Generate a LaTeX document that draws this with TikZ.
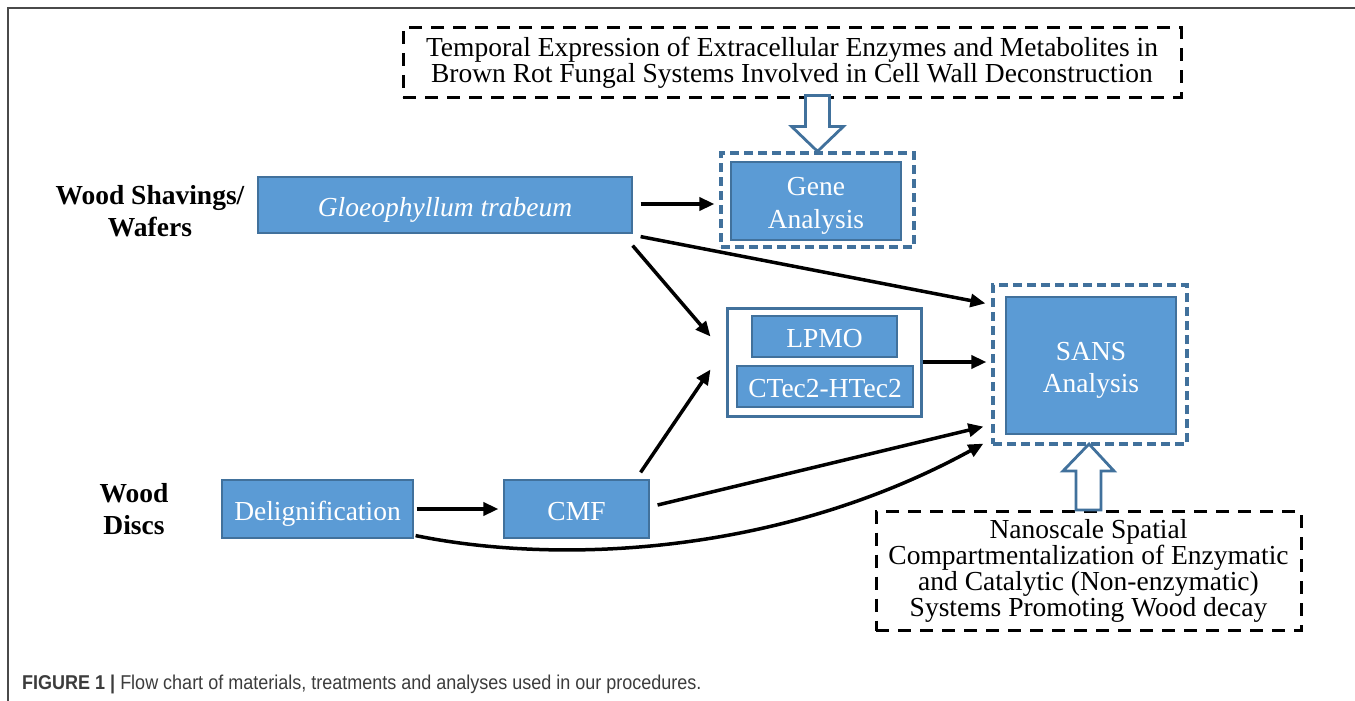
\documentclass[tikz,border=0pt]{standalone}
\usepackage{fontspec}
\setmainfont{Liberation Serif}
\newfontfamily\capfont{Liberation Sans}
\usetikzlibrary{calc,arrows.meta}
\definecolor{boxblue}{HTML}{5B9BD5}
\definecolor{edgeblue}{HTML}{41719C}
\definecolor{framegray}{HTML}{4A4A4A}
\definecolor{capgray}{HTML}{3C3C3C}
\newcommand\boxtxt[1]{\raisebox{-4.5pt}[\height][\depth]{\begin{tabular}{@{}c@{}}#1\end{tabular}}}
\begin{document}
\begin{tikzpicture}[x=1pt,y=-1pt,
  bluebox/.style={draw=edgeblue, line width=1.2pt, fill=boxblue, text=white, inner sep=0pt, font=\fontsize{27.5}{32.5}\selectfont},
  bluedash/.style={draw=edgeblue, line width=3.2pt, dash pattern=on 9pt off 5pt, inner sep=0pt},
  enzbox/.style={draw=edgeblue, line width=3pt, fill=white, inner sep=0pt},
  blackdash/.style={draw=black, line width=3pt, dash pattern=on 13pt off 9pt, align=center, inner sep=0pt, font=\fontsize{27.5}{26}\selectfont},
  arr/.style={line width=3.5pt, -{Triangle[length=15pt,width=13pt]}},
  hollow/.style={draw=edgeblue, line width=2.8pt, fill=white, line join=miter},
  lbl/.style={font=\fontsize{27.5}{32}\selectfont\bfseries, align=center}
]
\useasboundingbox (0,0) rectangle (1355,701);
\draw[framegray, line width=2pt] (8,701) -- (8,8) -- (1355,8);

% top text box
\node[blackdash, minimum width=778pt, minimum height=69pt] (top) at (792,62.5)
  {Temporal Expression of Extracellular Enzymes and Metabolites in\\Brown Rot Fungal Systems Involved in Cell Wall Deconstruction};

% gene analysis
\node[bluedash, minimum width=193pt, minimum height=94pt] (geneout) at (817.5,200) {};
\node[bluebox, minimum width=170pt, minimum height=78pt] (gene) at (816,201) {\boxtxt{Gene\\Analysis}};

% SANS analysis
\node[bluedash, minimum width=194pt, minimum height=159pt] (sansout) at (1090,364.5) {};
\node[bluebox, minimum width=170pt, minimum height=137pt] (sans) at (1091,365.5) {\boxtxt{SANS\\Analysis}};

% enzyme box
\node[enzbox, minimum width=194pt, minimum height=108pt] (enz) at (824,362) {};
\node[bluebox, minimum width=145pt, minimum height=41pt] (lpmo) at (824.5,336.5) {\boxtxt{LPMO}};
\node[bluebox, minimum width=176pt, minimum height=41pt] (ctec) at (825,386.5) {\boxtxt{CTec2-HTec2}};

% material boxes
\node[bluebox, minimum width=374pt, minimum height=56pt] (gloeo) at (445,205) {\boxtxt{\itshape Gloeophyllum trabeum}};
\node[bluebox, minimum width=191pt, minimum height=58pt] (delig) at (317.5,509) {\boxtxt{Delignification}};
\node[bluebox, minimum width=145pt, minimum height=58pt] (cmf) at (576.5,509) {\boxtxt{CMF}};

% bottom text box
\node[blackdash, minimum width=425pt, minimum height=119pt, font=\fontsize{27.5}{25}\selectfont] (bot) at (1088.5,571)
  {Nanoscale Spatial\\Compartmentalization of Enzymatic\\and Catalytic (Non-enzymatic)\\Systems Promoting Wood decay};

% labels
\node[lbl] (ws) at (150,211) {Wood Shavings/\\Wafers};
\node[lbl] (wd) at (134,509) {Wood\\Discs};

% hollow arrows
\draw[hollow] ($(geneout.north)+(-12,-56)$) -- ($(geneout.north)+(12,-56)$) -- ($(geneout.north)+(12,-25)$)
  -- ($(geneout.north)+(26,-25)$) -- (geneout.north) -- ($(geneout.north)+(-26,-25)$) -- ($(geneout.north)+(-12,-25)$) -- cycle;
\draw[hollow] ($(bot.north)+(-12.5,0)$) -- ($(bot.north)+(12.5,0)$) -- ($(bot.north)+(12.5,-39)$)
  -- ($(bot.north)+(25.5,-39)$) -- ($(bot.north)+(0.5,-66)$) -- ($(bot.north)+(-25.5,-39)$) -- ($(bot.north)+(-12.5,-39)$) -- cycle;

% connectors
\draw[arr] ($(gloeo.east)+(8,-1)$) -- ($(geneout.west)+(-5,4)$);
\draw[arr] ($(gloeo.south east)+(8,3)$) -- ($(sansout.north west)+(-6,20)$);
\draw[arr] ($(gloeo.south east)+(0,12)$) -- ($(enz.north west)+(-15,30)$);
\draw[arr] ($(cmf.north east)+(-9,-7)$) -- ($(enz.north west)+(-15,63)$);
\draw[arr] ($(cmf.east)+(8,-4)$) -- ($(sansout.south west)+(-8,-19)$);
\draw[arr] ($(delig.east)+(3,0)$) -- ($(cmf.west)+(-5,0)$);
\draw[arr] (enz.east) -- ($(sansout.west)+(-5,-2.5)$);
\draw[arr] ($(delig.south east)+(2,-3)$) .. controls (560,565) and (780,555) .. ($(sansout.south west)+(-8,-2)$);

% caption
\node[anchor=base west, inner sep=0pt, text=capgray, font=\capfont\fontsize{20}{22}\selectfont] (cap) at (22,689)
  {\scalebox{0.9}[1]{\textbf{FIGURE 1} \textbf{|} Flow chart of materials, treatments and analyses used in our procedures.}};
\end{tikzpicture}
\end{document}
